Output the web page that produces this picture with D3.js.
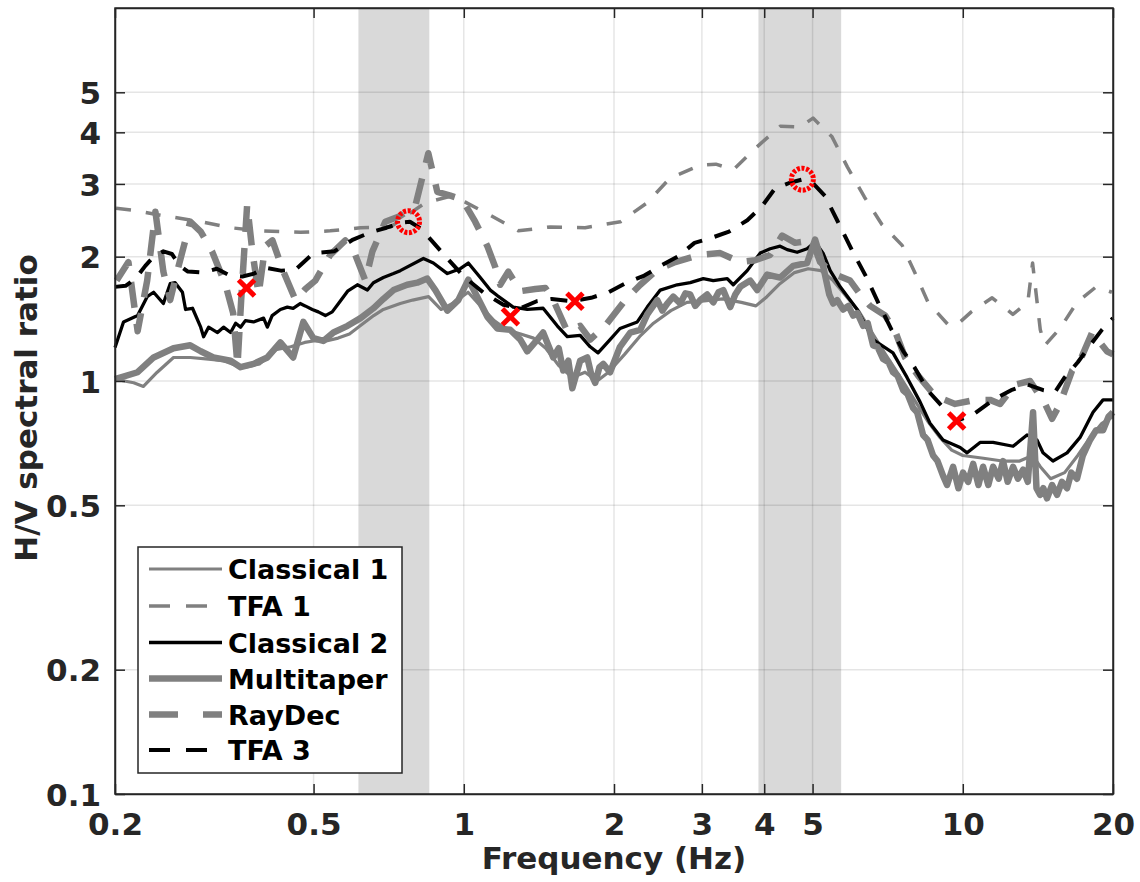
<!DOCTYPE html>
<html>
<head>
<meta charset="utf-8">
<script src="https://cdn.jsdelivr.net/npm/d3@7"></script>
<style>
  body { margin: 0; background: #fff; }
  text { font-family: "DejaVu Sans", sans-serif; font-weight: bold; }
</style>
</head>
<body>
<svg id="chart" width="1140" height="882"></svg>
<script>
// ---- axis ticks ----
const xTickValues = [0.2, 0.5, 1, 2, 3, 4, 5, 10, 20];
const yTickValues = [0.1, 0.2, 0.5, 1, 2, 3, 4, 5];

// ---- shaded frequency bands (Hz) ----
const bandLow = [0.615, 3.895];
const bandHigh = [0.853, 5.705];

// ---- Classical 1 ----
const classical1Freq = [0.200,0.218,0.228,0.243,0.262,0.283,0.308,0.33,0.35,0.365,0.39,0.404,0.42,0.45,0.48,0.50,0.53,0.56,0.59,0.62,0.66,0.69,0.746,0.79,0.85,0.90,0.95,1.02,1.08,1.15,1.22,1.30,1.38,1.46,1.55,1.65,1.75,1.85,1.95,2.1,2.25,2.4,2.6,2.8,3.0,3.3,3.6,3.85,4.05,4.3,4.6,4.9,5.2,5.5,5.8,6.2,6.6,7.0,7.5,8.0,8.5,9.0,9.5,10,11,12,13,13.8,14.3,15,16,17,18,19,20];
const classical1Ratio = [1.01,0.99,0.97,1.05,1.14,1.14,1.13,1.12,1.09,1.08,1.10,1.14,1.19,1.21,1.24,1.25,1.25,1.27,1.30,1.36,1.44,1.49,1.54,1.57,1.60,1.49,1.54,1.64,1.52,1.40,1.33,1.30,1.27,1.20,1.09,1.02,1.05,1.00,1.05,1.16,1.28,1.38,1.48,1.55,1.56,1.58,1.55,1.52,1.60,1.72,1.83,1.87,1.85,1.75,1.62,1.47,1.30,1.16,1.02,0.90,0.80,0.73,0.68,0.66,0.65,0.64,0.64,0.66,0.62,0.58,0.60,0.66,0.73,0.79,0.82];

// ---- TFA 1 ----
const tfa1Freq = [0.201,0.218,0.247,0.297,0.341,0.391,0.471,0.540,0.621,0.713,0.781,0.837,0.94,1.007,1.13,1.286,1.49,1.75,2.06,2.33,2.59,2.98,3.2,3.47,3.84,4.31,4.72,5.01,5.47,5.87,6.35,6.89,7.56,8.03,8.52,9.39,9.88,10.4,11.45,12.6,13.5,13.8,14.3,14.6,15.66,16.94,18.5,19.9];
const tfa1Ratio = [2.62,2.59,2.52,2.43,2.35,2.31,2.29,2.31,2.35,2.36,2.55,2.70,2.80,2.71,2.52,2.31,2.36,2.35,2.43,2.70,3.10,3.33,3.35,3.25,3.66,4.14,4.12,4.33,3.90,3.30,2.79,2.39,2.13,1.82,1.55,1.36,1.39,1.47,1.59,1.45,1.55,1.93,1.33,1.22,1.34,1.55,1.69,1.64];

// ---- Classical 2 ----
const classical2Freq = [0.200,0.208,0.222,0.232,0.239,0.250,0.258,0.264,0.273,0.277,0.286,0.297,0.301,0.308,0.321,0.330,0.341,0.349,0.357,0.365,0.379,0.397,0.404,0.413,0.429,0.443,0.455,0.470,0.481,0.497,0.511,0.528,0.545,0.561,0.585,0.612,0.641,0.659,0.690,0.723,0.746,0.830,0.869,0.927,0.984,1.021,1.079,1.130,1.167,1.256,1.340,1.442,1.539,1.612,1.711,1.792,1.858,1.964,2.056,2.227,2.332,2.476,2.677,2.843,3.020,3.162,3.373,3.467,3.698,3.926,4.111,4.305,4.447,4.656,4.875,5.058,5.248,5.424,5.679,6.143,6.610,7.246,7.731,8.210,8.596,9.128,9.88,10.20,10.83,11.50,12.61,13.45,14.08,14.48,15.16,16.18,17.18,18.24,19.10,20.0];
const classical2Ratio = [1.205,1.39,1.44,1.60,1.64,1.54,1.72,1.73,1.64,1.49,1.50,1.35,1.28,1.35,1.31,1.35,1.31,1.38,1.35,1.40,1.39,1.42,1.35,1.44,1.49,1.51,1.50,1.54,1.52,1.49,1.47,1.44,1.47,1.54,1.65,1.71,1.66,1.73,1.78,1.82,1.85,1.98,1.93,1.82,1.87,1.93,1.78,1.66,1.61,1.51,1.49,1.50,1.36,1.28,1.29,1.21,1.17,1.26,1.34,1.39,1.51,1.66,1.71,1.73,1.77,1.75,1.77,1.71,1.85,2.04,2.09,2.12,2.08,2.05,2.09,2.17,2.04,1.85,1.69,1.49,1.26,1.17,1.02,0.89,0.79,0.72,0.69,0.67,0.71,0.71,0.695,0.74,0.72,0.67,0.64,0.67,0.73,0.84,0.90,0.90];

// ---- Multitaper ----
const multitaperFreq = [0.200,0.222,0.239,0.262,0.283,0.297,0.315,0.341,0.357,0.379,0.404,0.429,0.455,0.477,0.4995,0.523,0.548,0.585,0.621,0.659,0.690,0.723,0.770,0.807,0.845,0.877,0.927,0.975,1.021,1.064,1.115,1.167,1.239,1.298,1.340,1.404,1.442,1.511,1.55,1.582,1.62,1.650,1.711,1.768,1.80,1.834,1.87,1.903,1.964,2.056,2.156,2.258,2.332,2.442,2.50,2.557,2.629,2.715,2.78,2.843,2.91,2.977,3.074,3.162,3.24,3.311,3.420,3.50,3.581,3.750,3.873,4.055,4.305,4.571,4.875,5.058,5.248,5.40,5.499,5.60,5.758,5.90,6.030,6.15,6.315,6.45,6.610,6.75,6.925,7.10,7.246,7.40,7.594,7.75,7.952,8.10,8.327,8.50,8.720,8.90,9.128,9.30,9.563,9.80,10.01,10.25,10.49,10.75,10.98,11.25,11.50,11.80,12.04,12.30,12.61,12.90,13.21,13.50,13.83,14.05,14.29,14.50,14.75,15.10,15.45,15.80,16.18,16.50,16.94,17.40,17.99,18.50,19.10,19.60,20.0];
const multitaperRatio = [1.01,1.05,1.14,1.20,1.22,1.18,1.14,1.12,1.08,1.10,1.14,1.24,1.14,1.39,1.27,1.25,1.31,1.36,1.42,1.50,1.58,1.66,1.71,1.73,1.77,1.66,1.48,1.57,1.76,1.60,1.43,1.34,1.33,1.26,1.18,1.26,1.31,1.14,1.20,1.06,1.12,0.96,1.12,1.14,1.04,0.99,1.08,1.10,1.05,1.21,1.31,1.33,1.45,1.57,1.48,1.54,1.60,1.54,1.63,1.62,1.52,1.57,1.62,1.55,1.64,1.66,1.51,1.62,1.69,1.75,1.66,1.81,1.78,1.90,1.93,2.20,1.90,1.62,1.54,1.57,1.49,1.52,1.44,1.46,1.36,1.38,1.22,1.21,1.13,1.11,1.05,1.03,0.95,0.93,0.86,0.84,0.74,0.72,0.66,0.64,0.59,0.56,0.62,0.55,0.60,0.57,0.63,0.56,0.62,0.56,0.62,0.58,0.64,0.57,0.62,0.58,0.61,0.57,0.84,0.55,0.53,0.55,0.52,0.56,0.53,0.57,0.55,0.60,0.58,0.66,0.72,0.76,0.76,0.82,0.84];

// ---- RayDec ----
const raydecFreq = [0.2015,0.2128,0.222,0.232,0.241,0.250,0.258,0.268,0.283,0.297,0.313,0.333,0.345,0.352,0.358,0.368,0.377,0.388,0.400,0.4135,0.435,0.460,0.4815,0.504,0.540,0.579,0.606,0.635,0.656,0.696,0.746,0.800,0.849,0.885,0.94,0.993,1.054,1.115,1.156,1.183,1.228,1.298,1.391,1.457,1.511,1.612,1.711,1.792,1.920,2.106,2.258,2.442,2.653,2.977,3.265,3.581,3.837,4.111,4.345,4.615,4.99,5.177,5.548,5.945,6.229,6.52,6.99,7.318,7.662,8.137,8.80,9.65,10.58,11.34,11.88,12.73,13.64,14.62,15.1,15.66,16.56,17.18,18.16,19.45,20.0];
const raydecRatio = [1.75,1.94,1.32,1.75,2.57,1.84,1.57,1.89,2.43,2.30,2.06,1.71,1.46,1.09,1.57,2.67,2.06,1.62,2.12,2.19,1.84,1.57,1.67,1.75,2.02,2.19,2.02,1.75,2.06,2.43,2.51,2.66,3.56,2.87,2.81,2.75,2.43,2.12,1.89,1.71,1.84,1.65,1.67,1.68,1.57,1.32,1.36,1.26,1.36,1.57,1.71,1.86,1.94,2.02,2.04,1.94,1.96,2.02,2.25,2.16,2.19,1.94,1.81,1.75,1.62,1.52,1.44,1.32,1.14,1.03,0.92,0.88,0.90,0.90,0.88,0.98,1.00,0.88,0.81,0.88,1.06,1.12,1.31,1.18,1.16];

// ---- TFA 3 ----
const tfa3Freq = [0.2,0.21,0.22,0.23,0.24,0.25,0.26,0.27,0.28,0.3,0.32,0.34,0.36,0.38,0.4,0.43,0.46,0.5,0.55,0.6,0.65,0.7,0.75,0.78,0.82,0.87,0.92,1.0,1.1,1.2,1.3,1.4,1.5,1.65,1.8,1.95,2.1,2.3,2.5,2.7,2.9,3.1,3.4,3.7,3.95,4.2,4.5,4.8,5.0,5.3,5.6,6.0,6.4,6.8,7.2,7.6,8.0,8.5,9.0,9.7,10.5,11.5,12.5,13.5,14.5,15.3,16,17,18,19,20];
const tfa3Ratio = [1.69,1.70,1.77,1.90,2.01,2.06,2.03,1.90,1.84,1.83,1.87,1.80,1.79,1.82,1.88,1.85,1.86,2.04,2.06,2.20,2.29,2.35,2.42,2.43,2.34,2.16,2.00,1.79,1.63,1.53,1.50,1.56,1.58,1.56,1.59,1.64,1.72,1.80,1.91,2.01,2.16,2.21,2.30,2.45,2.64,2.92,3.02,3.08,3.02,2.80,2.45,2.07,1.79,1.53,1.33,1.18,1.08,0.95,0.88,0.80,0.83,0.90,0.95,0.98,0.95,0.94,1.02,1.11,1.22,1.33,1.42];

// ---- picked peaks (circles) and troughs (crosses) ----
const peakFreq = [0.775, 4.77];
const peakRatio = [2.43, 3.08];
const troughFreq = [0.367, 1.24, 1.67, 9.72];
const troughRatio = [1.68, 1.43, 1.56, 0.80];

// ---- series styles, in drawing order ----
const series = [
  { name: "Classical 1", f: classical1Freq, v: classical1Ratio, color: "#808080", width: 3.2, dash: null },
  { name: "TFA 1",       f: tfa1Freq,       v: tfa1Ratio,       color: "#808080", width: 3.5, dash: "15,15" },
  { name: "Classical 2", f: classical2Freq, v: classical2Ratio, color: "#000000", width: 3.3, dash: null },
  { name: "Multitaper",  f: multitaperFreq, v: multitaperRatio, color: "#808080", width: 6.5, dash: null },
  { name: "RayDec",      f: raydecFreq,     v: raydecRatio,     color: "#808080", width: 6.5, dash: "26,16" },
  { name: "TFA 3",       f: tfa3Freq,       v: tfa3Ratio,       color: "#000000", width: 4,   dash: "17,13" }
];

const svg = d3.select("#chart");
const plotLeft = 115, plotRight = 1113, plotTop = 8, plotBottom = 794;
const axisColor = "#262626";

const x = d3.scaleLog().domain([0.2, 20]).range([plotLeft, plotRight]);
const y = d3.scaleLog().domain([0.1, 8]).range([plotBottom, plotTop]);

// shaded bands
svg.append("g").selectAll("rect")
  .data(d3.zip(bandLow, bandHigh))
  .join("rect")
  .attr("x", d => x(d[0]))
  .attr("width", d => x(d[1]) - x(d[0]))
  .attr("y", plotTop)
  .attr("height", plotBottom - plotTop)
  .attr("fill", "#d9d9d9");

// grid
const grid = svg.append("g").attr("stroke", "#000").attr("stroke-opacity", 0.1).attr("stroke-width", 1.5);
grid.selectAll("line.gx")
  .data(xTickValues.filter(d => d > 0.2 && d < 20))
  .join("line").attr("class", "gx")
  .attr("x1", d => x(d)).attr("x2", d => x(d))
  .attr("y1", plotTop).attr("y2", plotBottom);
grid.selectAll("line.gy")
  .data(yTickValues.filter(d => d > 0.1))
  .join("line").attr("class", "gy")
  .attr("y1", d => y(d)).attr("y2", d => y(d))
  .attr("x1", plotLeft).attr("x2", plotRight);

// data lines
const line = d3.line().x(d => x(d[0])).y(d => y(d[1]));
const lines = svg.append("g").attr("fill", "none")
  .attr("stroke-linejoin", "round");
series.forEach(s => {
  lines.append("path")
    .datum(d3.zip(s.f, s.v))
    .attr("d", line)
    .attr("stroke", s.color)
    .attr("stroke-width", s.width)
    .attr("stroke-dasharray", s.dash);
});

// troughs: red crosses
const cross = 8;
svg.append("g").selectAll("path")
  .data(d3.zip(troughFreq, troughRatio))
  .join("path")
  .attr("transform", d => `translate(${x(d[0])},${y(d[1])})`)
  .attr("d", `M${-cross},${-cross}L${cross},${cross}M${-cross},${cross}L${cross},${-cross}`)
  .attr("stroke", "#ff0000")
  .attr("stroke-width", 5)
  .attr("fill", "none");

// peaks: red dotted circles
svg.append("g").selectAll("circle")
  .data(d3.zip(peakFreq, peakRatio))
  .join("circle")
  .attr("cx", d => x(d[0]))
  .attr("cy", d => y(d[1]))
  .attr("r", 11)
  .attr("fill", "none")
  .attr("stroke", "#ff0000")
  .attr("stroke-width", 5)
  .attr("stroke-dasharray", "3,1.6");

// axes
function styleAxis(g) {
  g.selectAll(".domain").attr("stroke", axisColor).attr("stroke-width", 1.5);
  g.selectAll(".tick line").attr("stroke", axisColor).attr("stroke-width", 1.5);
  g.selectAll(".tick text")
    .attr("fill", axisColor)
    .style("font-size", "31px")
    .style("font-family", "'DejaVu Sans', sans-serif")
    .style("font-weight", "bold");
}
const fmt = d => String(d);

svg.append("g")
  .attr("transform", `translate(0,${plotBottom})`)
  .call(d3.axisBottom(x).tickValues(xTickValues).tickFormat(fmt).tickSize(-10).tickSizeOuter(0))
  .call(styleAxis)
  .call(g => g.selectAll(".tick text").attr("y", 41).attr("dy", 0));

svg.append("g")
  .attr("transform", `translate(0,${plotTop})`)
  .call(d3.axisTop(x).tickValues(xTickValues).tickFormat("").tickSize(-10).tickSizeOuter(0))
  .call(styleAxis);

svg.append("g")
  .attr("transform", `translate(${plotLeft},0)`)
  .call(d3.axisLeft(y).tickValues(yTickValues).tickFormat(fmt).tickSize(-10).tickSizeOuter(0))
  .call(styleAxis)
  .call(g => g.selectAll(".tick text").attr("x", -14).attr("dy", "0.36em"));

svg.append("g")
  .attr("transform", `translate(${plotRight},0)`)
  .call(d3.axisRight(y).tickValues(yTickValues).tickFormat("").tickSize(-10).tickSizeOuter(0))
  .call(styleAxis);

svg.append("rect")
  .attr("x", plotLeft).attr("y", plotTop)
  .attr("width", plotRight - plotLeft).attr("height", plotBottom - plotTop)
  .attr("fill", "none").attr("stroke", axisColor).attr("stroke-width", 1.5);

// axis titles
svg.append("text")
  .attr("x", (plotLeft + plotRight) / 2).attr("y", 869)
  .attr("text-anchor", "middle")
  .attr("fill", axisColor)
  .style("font-size", "31px")
  .text("Frequency (Hz)");

svg.append("text")
  .attr("transform", "translate(37,408) rotate(-90)")
  .attr("text-anchor", "middle")
  .attr("fill", axisColor)
  .style("font-size", "31px")
  .text("H/V spectral ratio");

// legend
const legend = svg.append("g");
legend.append("rect")
  .attr("x", 138).attr("y", 547).attr("width", 264).attr("height", 226)
  .attr("fill", "#fff").attr("stroke", axisColor).attr("stroke-width", 1.5);
const rowY = [569, 606, 642.5, 678.5, 714.5, 750];
series.forEach((s, i) => {
  legend.append("line")
    .attr("x1", 149).attr("x2", 222)
    .attr("y1", rowY[i]).attr("y2", rowY[i])
    .attr("stroke", s.color)
    .attr("stroke-width", s.width)
    .attr("stroke-dasharray", s.dash ? (s.width > 5 ? "29,25" : "21,16") : null);
  legend.append("text")
    .attr("x", 228).attr("y", rowY[i] + 10)
    .attr("fill", "#000")
    .style("font-size", "27px")
    .text(s.name);
});
</script>
</body>
</html>
